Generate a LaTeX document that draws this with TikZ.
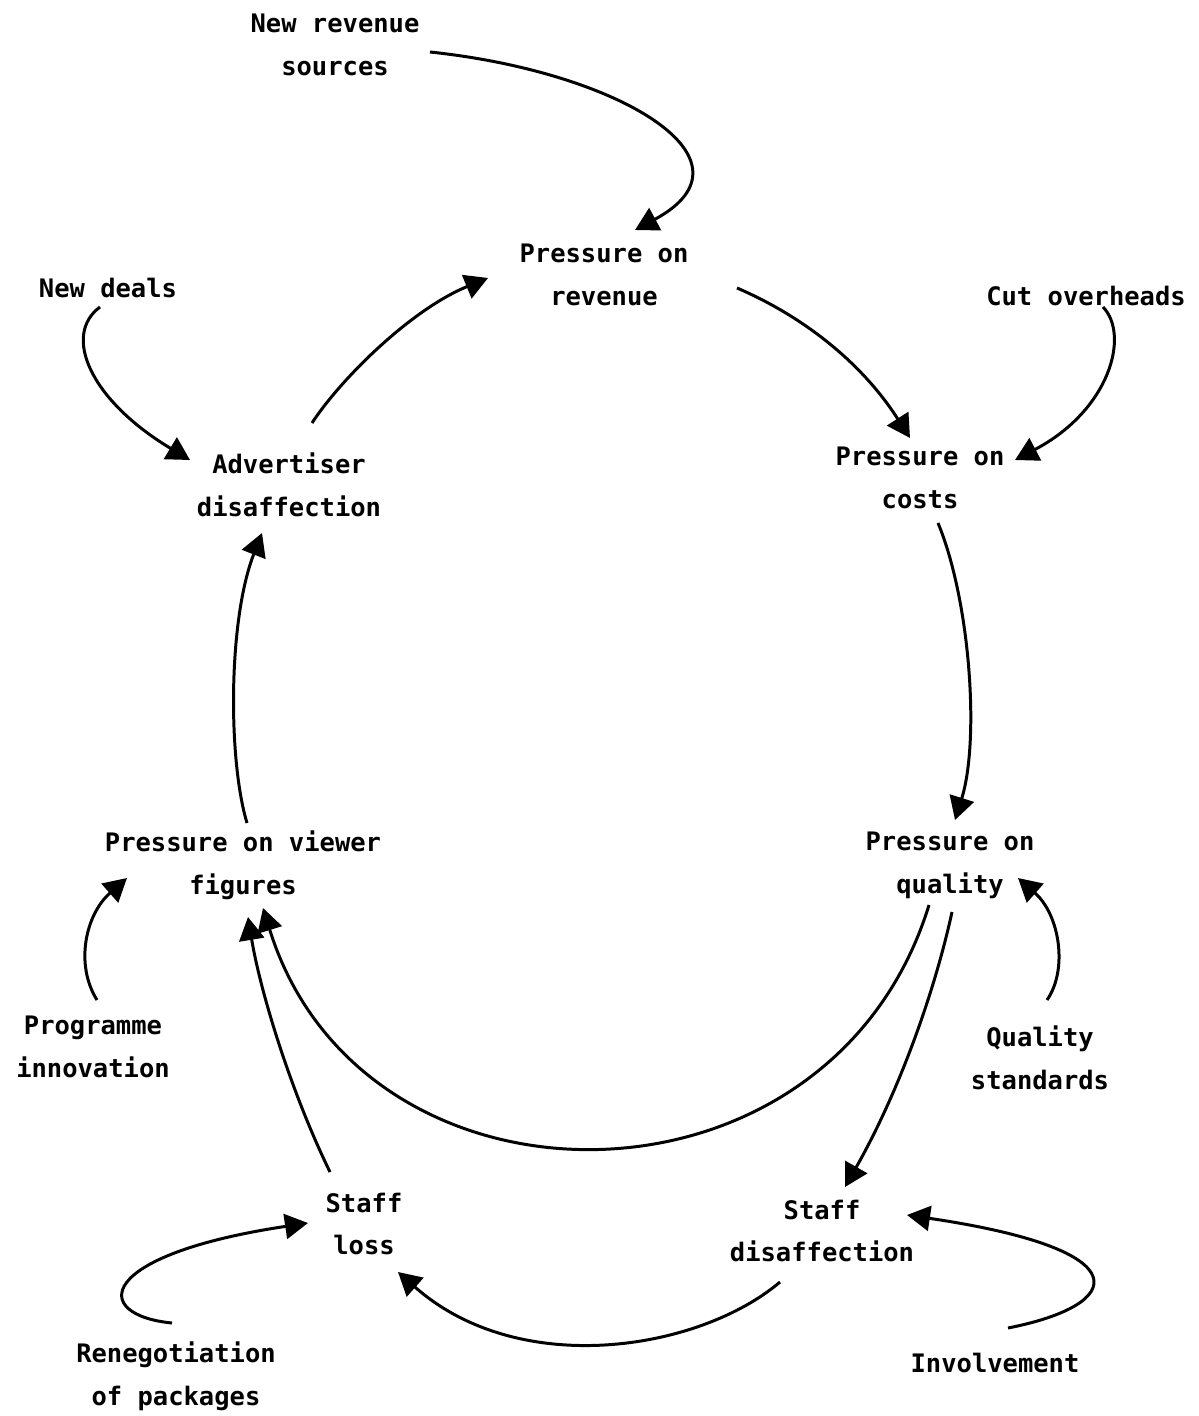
\documentclass[tikz,border=0pt]{standalone}
\usepackage{fontspec}
\newfontfamily\diagfont{DejaVu Sans Mono}
\usetikzlibrary{arrows.meta}

\begin{document}
\begin{tikzpicture}[x=0.02cm,y=-0.02cm]
		\tikzstyle{every node}=[font=\diagfont\bfseries\fontsize{14.5}{24.4}\selectfont, align=center, inner sep=0pt]
		\tikzstyle{link}=[line width=1.7pt, -{Triangle[length=0.46cm,width=0.5cm]}]
		\useasboundingbox (0,0) rectangle (1198,1416);
		% factors
		\node (nrs) at (335,45) {New revenue\\sources};
		\node (rev) at (604,275) {Pressure on\\revenue};
		\node (deals) at (108,288) {New deals};
		\node (cut) at (1086,296) {Cut overheads};
		\node (adv) at (289,485) {Advertiser\\disaffection};
		\node (costs) at (920,478) {Pressure on\\costs};
		\node (view) at (243,865) {Pressure on viewer\\figures};
		\node (qual) at (950,865) {Pressure on\\quality};
		\node (prog) at (93,1047) {Programme\\innovation};
		\node (qstd) at (1040,1058) {Quality\\standards};
		\node (sloss) at (364,1224) {Staff\\loss};
		\node (sdis) at (822,1231) {Staff\\disaffection};
		\node (reneg) at (176,1376) {Renegotiation\\of packages};
		\node (inv) at (995,1363) {Involvement};
		% influences
		\draw [link] ([shift={(95,7)}]nrs.center) .. controls (620,72) and (765,160) .. ([shift={(31,-45)}]rev.center);
		\draw [link] ([shift={(133,13)}]rev.center) .. controls (800,315) and (860,360) .. ([shift={(-10,-40)}]costs.center);
		\draw [link] ([shift={(17,11)}]cut.center) .. controls (1130,335) and (1110,410) .. ([shift={(95,-18)}]costs.center);
		\draw [link] ([shift={(18,45)}]costs.center) .. controls (970,600) and (980,740) .. ([shift={(5,-45)}]qual.center);
		\draw [link] ([shift={(7,-58)}]qstd.center) .. controls (1068,970) and (1060,915) .. ([shift={(68,13)}]qual.center);
		\draw [link] ([shift={(2,47)}]qual.center) .. controls (935,990) and (900,1090) .. ([shift={(23,-44)}]sdis.center);
		\draw [link] ([shift={(-21,40)}]qual.center) .. controls (830,1227) and (362,1227) .. ([shift={(20,43)}]view.center);
		\draw [link] ([shift={(13,-35)}]inv.center) .. controls (1125,1305) and (1144,1250) .. ([shift={(85,-16)}]sdis.center);
		\draw [link] ([shift={(-42,51)}]sdis.center) .. controls (700,1350) and (520,1380) .. ([shift={(34,48)}]sloss.center);
		\draw [link] ([shift={(-4,-53)}]reneg.center) .. controls (90,1315) and (95,1255) .. ([shift={(-56,-1)}]sloss.center);
		\draw [link] ([shift={(-34,-52)}]sloss.center) .. controls (290,1090) and (260,990) .. ([shift={(5,52)}]view.center);
		\draw [link] ([shift={(4,-47)}]prog.center) .. controls (75,965) and (85,915) .. ([shift={(-116,13)}]view.center);
		\draw [link] ([shift={(4,-42)}]view.center) .. controls (228,760) and (228,620) .. ([shift={(-27,48)}]adv.center);
		\draw [link] ([shift={(-8,19)}]deals.center) .. controls (62,335) and (90,400) .. ([shift={(-99,-25)}]adv.center);
		\draw [link] ([shift={(23,-62)}]adv.center) .. controls (340,380) and (410,310) .. ([shift={(-116,3)}]rev.center);
	\end{tikzpicture}
\end{document}
